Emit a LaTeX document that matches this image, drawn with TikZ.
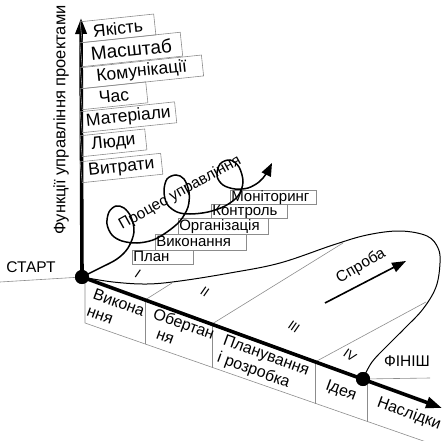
\documentclass[tikz,border=0pt]{standalone}
\usepackage{fontspec}
\setmainfont{Liberation Sans}
\usetikzlibrary{arrows.meta}

\begin{document}
\begin{tikzpicture}[
        x=1pt, y=-1pt, % coordinate come pixel dell'immagine
        axis/.style={line width=3.6pt, -{Triangle[length=16pt,width=11pt]}},
        fbox/.style={draw=black!45, line width=0.6pt, inner sep=1pt, font=\fontsize{17.5}{18}\selectfont,
            anchor=south west, rotate=6, minimum height=21pt}, % funzioni, inclinate
        pbox/.style={draw=black!45, line width=0.6pt, inner xsep=1pt, inner ysep=0pt, font=\fontsize{15}{16}\selectfont,
            anchor=south west, align=left, text height=10.5pt, text depth=3pt, minimum height=14pt},
        stage/.style={font=\fontsize{16}{18}\selectfont, align=left, rotate=-20},
        grayline/.style={draw=black!45, line width=0.6pt},
        dot/.style={circle, fill=black, inner sep=0pt, minimum size=14pt},
        roman/.style={font=\fontsize{13}{13}\selectfont, rotate=-35},
        label/.style={font=\fontsize{15.5}{16}\selectfont}
    ]
    \useasboundingbox (0,0) rectangle (442,441);

    % assi
    \node[dot] (O) at (82,277) {};
    \node[dot] (F) at (363,379) {};
    \coordinate (ytip) at (81,18);
    \coordinate (xtip) at (442,408);
    \coordinate (st) at (0,282);
    \coordinate (fin) at (430,378);
    \draw[grayline] (st) -- (O.center);
    \draw[grayline] (F.center) -- (fin);

    % fasce sotto l'asse
    \coordinate (a0) at (85,278);  \coordinate (b0) at (85,323);
    \coordinate (a1) at (145,300); \coordinate (b1) at (145,344);
    \coordinate (a2) at (212,324); \coordinate (b2) at (212,368);
    \coordinate (a3) at (315,362); \coordinate (b3) at (315,404);
    \coordinate (a4) at (367,380); \coordinate (b4) at (367,422);
    \coordinate (b5) at (432,444);
    \draw[grayline] (a0) -- (b0) -- (b5);
    \foreach \i in {1,...,4} {\draw[grayline] (a\i) -- (b\i);}

    % divisori verso la curva
    \coordinate (c1) at (172,283);
    \coordinate (c2) at (343,243);
    \coordinate (c3) at (426,302);
    \foreach \i in {1,2,3} {\draw[grayline] (a\i) -- (c\i);}

    % curva della prova
    \draw[line width=1pt] plot[smooth, tension=0.6] coordinates {(O.center) (113,282) (147,284) (180,281) (230,273)
        (280,263) (333,245) (367,235) (400,231) (427,236) (438,248) (440,263) (436,287) (423,309) (405,328)
        (388,345) (372,362) (F.center)};

    \draw[axis] (O.center) -- (ytip);
    \draw[axis] (O.center) -- (xtip);
    \node[dot] at (O) {};
    \node[dot] at (F) {};

    % funzioni (a sinistra)
    \node[fbox, minimum width=74pt]  (q1) at (82,43)  {Якість};
    \node[fbox, minimum width=101pt, minimum height=24pt, font=\fontsize{19}{19}\selectfont] (q2) at (82,67) {Масштаб};
    \node[fbox, minimum width=122pt] (q3) at (82,89)  {Комунікації};
    \node[fbox, minimum width=66pt]  (q4) at (82,110) {Час};
    \node[fbox, minimum width=95pt]  (q5) at (82,133) {Матеріали};
    \node[fbox, minimum width=65pt]  (q6) at (82,157) {Люди};
    \node[fbox, minimum width=81pt]  (q7) at (82,183) {Витрати};
    \node[label, rotate=90, font=\fontsize{16.5}{17}\selectfont] (fun) at (61,120) {Функції управління проектами};

    % fasi del processo
    \node[pbox, text width=59pt] (p1) at (132,265) {План};
    \node[pbox, text width=89pt, minimum height=16pt] (p2) at (155,251) {Виконання};
    \node[pbox, text width=88pt, minimum height=16pt] (p3) at (178,235) {Організація};
    \node[pbox, text width=74pt] (p4) at (211,219) {Контроль};
    \node[pbox, text width=84pt] (p5) at (230,205) {Моніторинг};

    % spirale
    \coordinate (spend) at (272,163);
    \draw[line width=1.5pt, -{Triangle[length=13pt,width=10pt]}] plot[smooth, tension=0.55] coordinates {(O.center)
        (100,268) (117,259) (128,248) (134,232) (131,217) (124,208) (116,206) (109,212) (107,224) (112,235) (122,241)
        (137,243) (153,240) (167,232) (180,221) (188,207) (189,192) (184,179) (176,175) (167,179) (164,191) (167,204)
        (177,212) (190,214) (208,212) (225,206) (238,196) (243,182) (239,167) (230,160) (220,164) (217,176) (223,185)
        (235,189) (248,188) (259,182) (266,174) (spend)};
    \node[label, rotate=29] (proc) at (180,193) {Процес управління};

    % etichette sotto l'asse
    \node[stage] (s1) at (116,311) {Викона\\ння};
    \node[stage] (s2) at (181,332) {Обертан\\\hspace*{10pt}ня};
    \node[stage] (s3) at (263,365) {Планування\\і розробка};
    \node[stage] (s4) at (341,391) {Ідея};
    \node[stage] (s5) at (409,414) {Наслідки};

    \node[roman] (r1) at (138,274) {I};
    \node[roman] (r2) at (205,292) {II};
    \node[roman] (r3) at (294,327) {III};
    \node[roman] (r4) at (350,355) {IV};

    \node[label] (start) at (31,267) {СТАРТ};
    \node[label] (finish) at (407,361) {ФІНІШ};

    % prova
    \coordinate (t1) at (325,303);
    \coordinate (t2) at (406,261);
    \draw[line width=1.6pt, -{Triangle[length=14pt,width=10pt]}] (t1) -- (t2);
    \node[label, rotate=30] (try) at (361,266) {Спроба};
\end{tikzpicture}
\end{document}
